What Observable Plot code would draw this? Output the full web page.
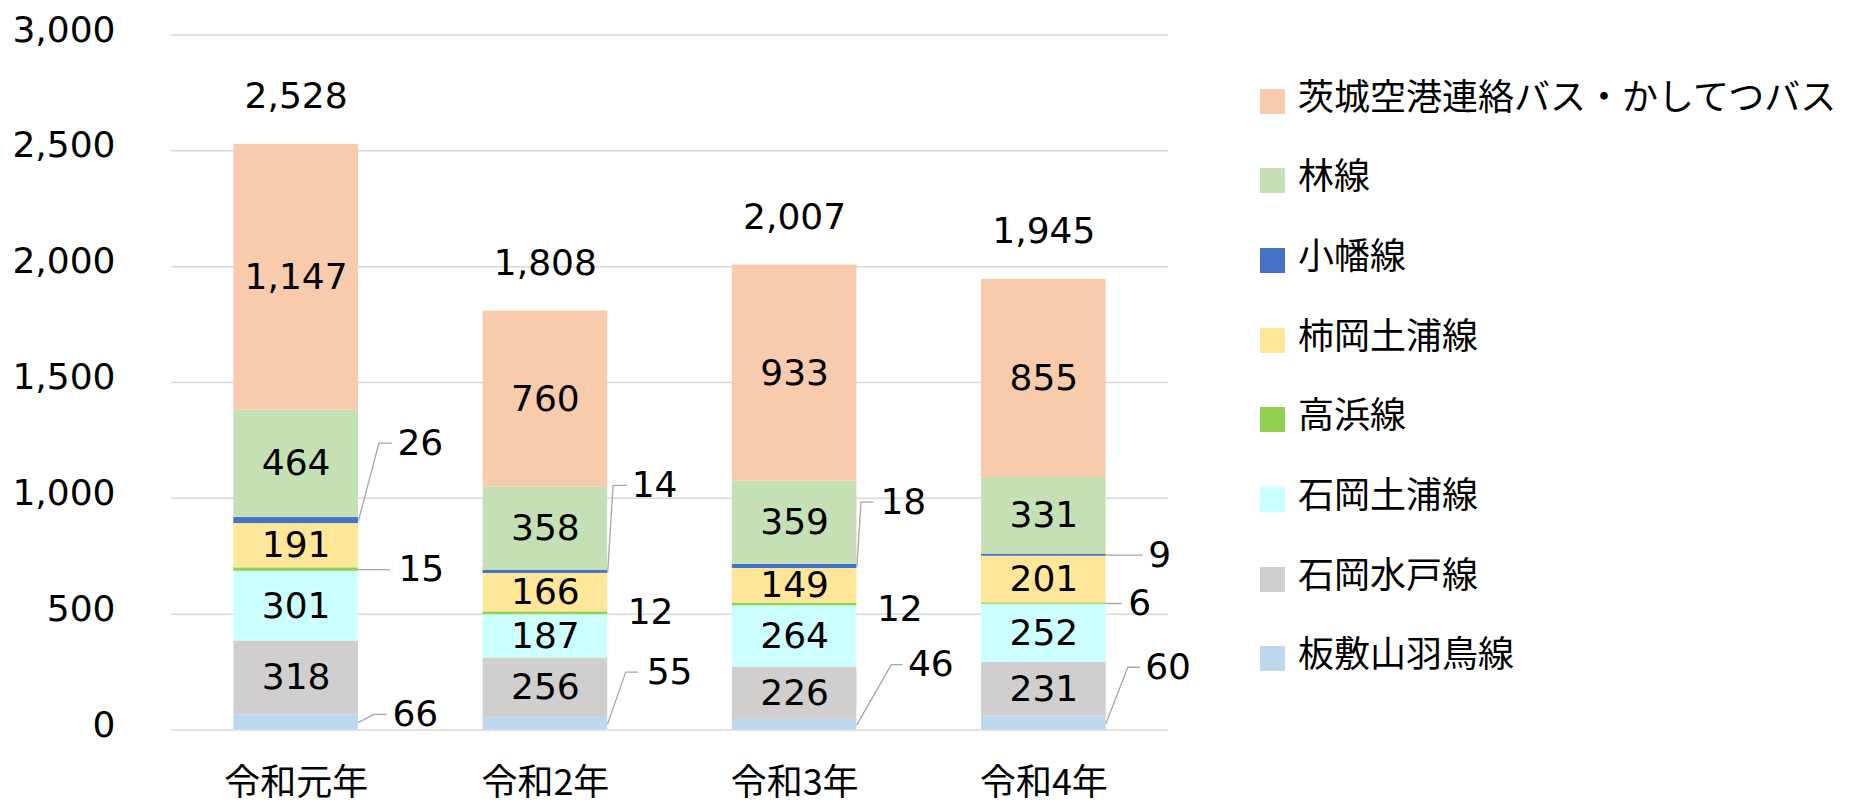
<!DOCTYPE html>
<html><head><meta charset="utf-8">
<script src="https://cdn.jsdelivr.net/npm/d3@7"></script>
<script src="https://cdn.jsdelivr.net/npm/@observablehq/plot@0.6"></script>
<style>
body{margin:0;background:#fff;}
#wrap{position:relative;width:1860px;height:807px;overflow:hidden;font-family:'DejaVu Sans','Noto Sans CJK JP',sans-serif;}
#chart{position:absolute;left:0;top:0;}
#legend{position:absolute;left:1260px;top:0;}
.item{position:absolute;left:0;white-space:nowrap;height:25px;}
.sw{position:absolute;left:0;top:0;width:25px;height:25px;}
.lab{position:absolute;left:38px;top:-13px;font-size:36px;line-height:1;color:#000;font-family:'Noto Sans CJK JP',sans-serif;}
</style></head><body><div id="wrap"><div id="chart"></div><div id="legend"></div></div>
<script>
const years = ["令和元年","令和2年","令和3年","令和4年"];
// stacking order, bottom to top
const series = ["板敷山羽鳥線","石岡水戸線","石岡土浦線","高浜線","柿岡土浦線","小幡線","林線","茨城空港連絡バス・かしてつバス"];
const colors = ["#BDD7EE","#D0CECE","#CCFFFF","#92D050","#FFE699","#4472C4","#C5E0B4","#F8CBAD"];
const itajikiyamaHatori = [66,55,46,60];
const ishiokaMito = [318,256,226,231];
const ishiokaTsuchiura = [301,187,264,252];
const takahama = [15,12,12,6];
const kakiokaTsuchiura = [191,166,149,201];
const obata = [26,14,18,9];
const hayashi = [464,358,359,331];
const airportKashitetsu = [1147,760,933,855];
const yTicks = [0,500,1000,1500,2000,2500,3000];
const smallSeries = ["板敷山羽鳥線","高浜線","小幡線"];

// callout placement (pixels): year, series, elbow dx, label shift dy, leader end dx, text dx — relative to bar right edge / segment middle
const calloutLayout = [
  ["令和元年","板敷山羽鳥線",15.5,-8,27.5,34],
  ["令和元年","高浜線",0,0,31,40],
  ["令和元年","小幡線",20.5,-77.4,33,39],
  ["令和2年","板敷山羽鳥線",18,-51.5,30,39],
  ["令和2年","高浜線",0,-1,0,20],
  ["令和2年","小幡線",5.4,-86.3,19,24],
  ["令和3年","板敷山羽鳥線",34.4,-60,45,51],
  ["令和3年","高浜線",0,4.6,0,20],
  ["令和3年","小幡線",4,-64.3,16,23.5],
  ["令和4年","板敷山羽鳥線",21.6,-55.8,33,39],
  ["令和4年","高浜線",0,0,15,22],
  ["令和4年","小幡線",0,0,36,42]
];

const valuesBySeries = [itajikiyamaHatori, ishiokaMito, ishiokaTsuchiura, takahama, kakiokaTsuchiura, obata, hayashi, airportKashitetsu];

const W = 1240, H = 807, mL = 171, mR = 72, mT = 34.5, mB = 77.5;
const pxX = 4 / (W - mL - mR);
const pxY = 3000 / (H - mT - mB);

const rows = [];
years.forEach((year, i) => {
  let acc = 0;
  series.forEach((s, k) => {
    const v = valuesBySeries[k][i];
    rows.push({year, i, series: s, value: v, y1: acc, y2: acc + v, mid: acc + v / 2});
    acc += v;
  });
});
const totals = years.map((year, i) => ({year, i, total: d3.sum(valuesBySeries, a => a[i])}));

const fmt = d3.format(",");
const callouts = calloutLayout.map(([year, s, ex, dy, hx, tx]) => {
  const r = rows.find(d => d.year === year && d.series === s);
  const xe = r.i + 0.75;
  const ly = r.mid - dy * pxY;
  return {key: year + s, r, xe, ex, hx, tx, ly};
});
const leaderPts = [];
callouts.filter(c => c.hx > 0).forEach(c => {
  leaderPts.push({key: c.key, x: c.xe, y: c.r.mid});
  leaderPts.push({key: c.key, x: c.xe + c.ex * pxX, y: c.ly});
  leaderPts.push({key: c.key, x: c.xe + c.hx * pxX, y: c.ly});
});

const FONT = "'DejaVu Sans','Noto Sans CJK JP',sans-serif";
const plot = Plot.plot({
  width: W, height: H,
  marginLeft: mL, marginRight: mR, marginTop: mT, marginBottom: mB,
  style: {fontFamily: FONT, fontSize: "36px", color: "#000", background: "#fff"},
  x: {domain: [0, 4], axis: null},
  y: {domain: [0, 3000], axis: null},
  color: {domain: series, range: colors},
  marks: [
    Plot.gridY({ticks: yTicks, stroke: "#d9d9d9", strokeOpacity: 1, strokeWidth: 1.5}),
    Plot.axisY({ticks: yTicks, tickSize: 0, tickPadding: 56, tickFormat: fmt, label: null, fontSize: 36, dy: -5}),
    Plot.axisX({ticks: [0.5, 1.5, 2.5, 3.5], tickFormat: t => years[Math.floor(t)], tickSize: 0, tickPadding: 39, label: null, fontSize: 36, fontFamily: "'Noto Sans CJK JP',sans-serif"}),
    Plot.rectY(rows, {x1: d => d.i + 0.25, x2: d => d.i + 0.75, y1: "y1", y2: "y2", fill: "series"}),
    Plot.line(leaderPts, {x: "x", y: "y", z: "key", stroke: "#a6a6a6", strokeWidth: 1.3}),
    Plot.text(rows.filter(d => !smallSeries.includes(d.series)), {x: d => d.i + 0.5, y: "mid", text: d => fmt(d.value), fill: "#000", fontSize: 36}),
    Plot.text(callouts, {x: d => d.xe + d.tx * pxX, y: "ly", text: d => fmt(d.r.value), textAnchor: "start", fill: "#000", fontSize: 36}),
    Plot.text(totals, {x: d => d.i + 0.5, y: "total", text: d => fmt(d.total), dy: -48, fill: "#000", fontSize: 36})
  ]
});
document.getElementById("chart").appendChild(plot);

// legend (top to bottom = top of stack first)
const leg = document.getElementById("legend");
series.slice().reverse().forEach((s, j) => {
  const k = series.indexOf(s);
  const item = document.createElement("div");
  item.className = "item";
  item.style.top = (101 + 79.7 * j - 12.5) + "px";
  const sw = document.createElement("div");
  sw.className = "sw";
  sw.style.background = colors[k];
  const lab = document.createElement("div");
  lab.className = "lab";
  lab.textContent = s;
  item.appendChild(sw); item.appendChild(lab);
  leg.appendChild(item);
});
</script></body></html>
